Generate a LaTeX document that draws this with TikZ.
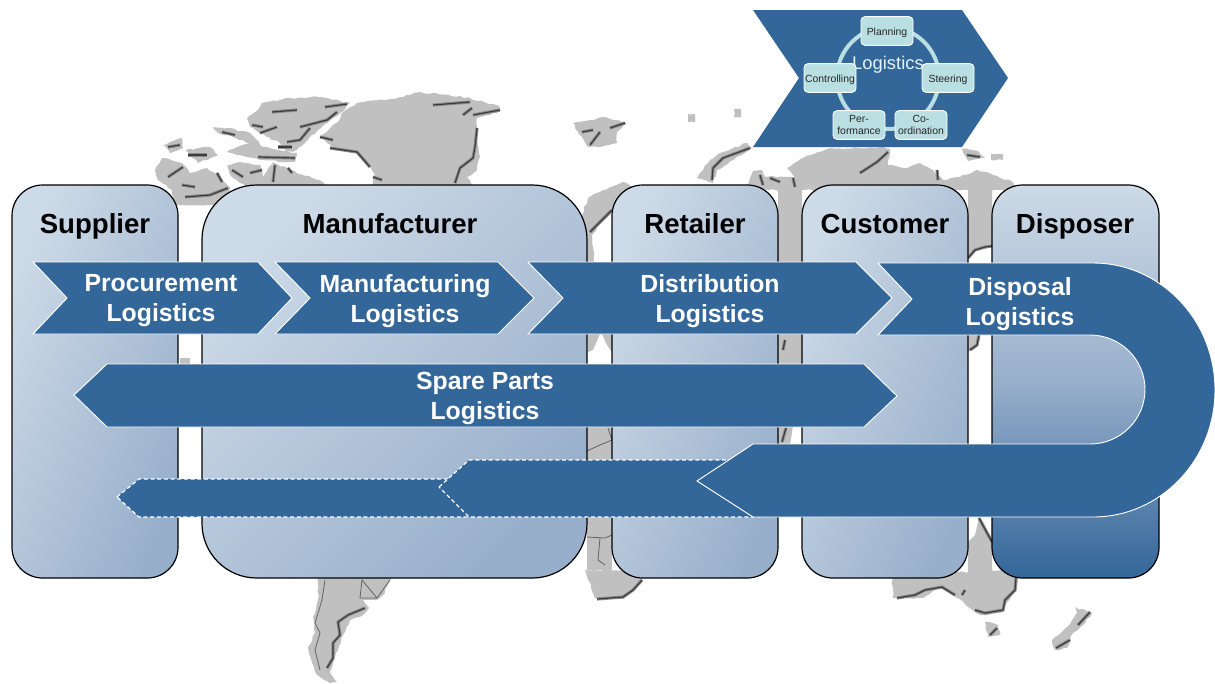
\documentclass[tikz,border=0pt]{standalone}
\usepackage{fontspec}
\setmainfont{Liberation Sans}
\usetikzlibrary{decorations.pathmorphing}

\definecolor{flowblue}{HTML}{336699}
\definecolor{boxlight}{HTML}{CDDAE7}
\definecolor{boxdark}{HTML}{98AFCB}
\definecolor{landgrey}{HTML}{C0C0C0}
\definecolor{coastgrey}{HTML}{3C3C3C}
\definecolor{coastblur}{HTML}{8C8C8C}
\definecolor{cyclepale}{HTML}{B9DFE3}

\tikzset{
    land/.style={fill=landgrey, decorate, decoration={random steps, segment length=3pt, amplitude=0.7pt}},
    coast/.style={draw=coastgrey, line width=0.9pt, line join=round, preaction={draw=coastblur, line width=2.4pt}},
    fineline/.style={draw=coastgrey!80, line width=0.6pt},
    stagebox/.style={draw=black, line width=0.9pt, top color=boxlight, bottom color=boxdark, shading angle=67},
    flowarrow/.style={fill=flowblue, draw=white, line width=0.7pt, line join=miter},
    tailarrow/.style={flowarrow, line width=0.9pt, dash pattern=on 3pt off 2pt},
    stagetitle/.style={font=\fontsize{20.7}{24}\selectfont\bfseries, text=black, inner sep=0pt, text height=14.5pt, text depth=4.2pt},
    flowtext/.style={font=\fontsize{18.6}{22.5}\selectfont\bfseries, text=white, align=center, inner sep=0pt},
    cyclebox/.style={draw=white, line width=0.7pt, fill=cyclepale, rounded corners=3pt, inner sep=0pt,
        minimum width=39pt, minimum height=21.5pt, align=center, font=\fontsize{7.8}{9}\selectfont, text=black!85,
        execute at begin node=\rule{0pt}{8pt}}
}

\begin{document}
\begin{tikzpicture}[x=0.75pt, y=-0.75pt]
    \useasboundingbox (0,0) rectangle (1215,683);
    \pgfmathsetseed{7}

    % map behind everything
    \fill[land] (320,137) -- (338,122) -- (343,112) -- (357,103) -- (383,100) -- (403,97) -- (420,92) -- (470,98) -- (500,107) -- (497,113) -- (477,118) -- (477,137) -- (480,157) -- (477,170) -- (467,177) -- (477,190) -- (370,190) -- (375,175) -- (370,165) -- (357,152) -- (333,148) -- cycle;
    \fill[land] (262,103) -- (290,98) -- (320,97) -- (350,103) -- (340,113) -- (327,123) -- (310,137) -- (297,150) -- (287,152) -- (280,143) -- (267,137) -- (250,127) -- (247,118) -- (258,110) -- cycle;
    \fill[land] (213,127) -- (227,128) -- (250,133) -- (263,147) -- (297,153) -- (295,162) -- (260,160) -- (227,152) -- (237,147) -- (250,143) -- (233,137) -- (218,133) -- cycle;
    \fill[land] (163,145) -- (182,138) -- (183,148) -- (170,153) -- cycle;
    \fill[land] (185,150) -- (210,147) -- (218,155) -- (198,163) -- cycle;
    \fill[land] (155,170) -- (162,158) -- (182,163) -- (190,173) -- (207,168) -- (220,177) -- (230,187) -- (227,205) -- (173,205) -- (172,190) -- (158,180) -- cycle;
    \fill[land] (228,165) -- (240,162) -- (260,165) -- (263,177) -- (273,162) -- (290,170) -- (323,182) -- (327,190) -- (253,190) -- (240,183) -- (230,175) -- cycle;
    \fill[land] (573,123) -- (590,120) -- (603,117) -- (627,123) -- (617,132) -- (617,143) -- (597,147) -- (588,147) -- (578,132) -- cycle;
    \fill[land] (582,215) -- (588,198) -- (603,190) -- (623,182) -- (635,187) -- (625,215) -- (612,212) -- (600,223) -- (592,235) -- (594,262) -- (585,262) -- cycle;
    \fill[land] (697,178) -- (713,183) -- (717,170) -- (752,148) -- (747,143) -- (723,152) -- (710,160) -- (700,173) -- cycle;
    \fill[land] (745,190) -- (753,171) -- (762,170) -- (765,177) -- (787,177) -- (795,177) -- (787,168) -- (803,158) -- (827,149) -- (880,147) -- (890,149) -- (888,165) -- (907,168) -- (920,163) -- (933,170) -- (943,180) -- (960,177) -- (977,170) -- (993,175) -- (1013,182) -- (1017,190) -- cycle;
    \fill[landgrey] (778,185) rectangle (802,364);
    \fill[landgrey] (802,364) -- (790,446) -- (778,446) -- (778,364) -- cycle;
    \fill[landgrey] (968,185) -- (992,185) -- (992,246) -- (985,247) -- (975,250) -- (968,258) -- cycle;
    \fill[landgrey] (968,334) -- (980,334) -- (978,345) -- (968,352) -- cycle;
    \fill[landgrey] (588,334) -- (600,334) -- (593,350) -- (588,352) -- cycle;
    \fill[landgrey] (602,334) -- (612,334) -- (612,352) -- (607,345) -- cycle;
    \fill[landgrey] (587,420) rectangle (612,570);
    \fill[landgrey] (180,358) rectangle (190,366);
    \fill[land] (585,570) -- (595,598) -- (623,599) -- (642,580) -- (633,570) -- cycle;
    \fill[land] (318,575) -- (393,575) -- (383,595) -- (377,600) -- (363,600) -- (369,608) -- (363,615) -- (350,620) -- (343,635) -- (338,650) -- (333,663) -- (330,673) -- (337,682) -- (330,683) -- (317,675) -- (312,663) -- (308,647) -- (315,633) -- (313,617) -- (318,600) -- cycle;
    \fill[land] (892,575) -- (893,598) -- (923,598) -- (942,587) -- (957,598) -- (970,608) -- (980,615) -- (1003,612) -- (1007,602) -- (1017,587) -- (1017,570) -- cycle;
    \fill[landgrey] (968,542) -- (975,535) -- (979,518) -- (992,542) -- (992,585) -- (968,585) -- cycle;
    \fill[land] (985,622) -- (998,625) -- (1000,635) -- (988,637) -- cycle;
    \fill[land] (1075,607) -- (1092,613) -- (1083,625) -- (1073,633) -- (1067,648) -- (1055,650) -- (1052,640) -- (1067,627) -- (1077,613) -- cycle;
    \fill[land] (688,114) rectangle (695,122);
    \fill[land] (734,109) rectangle (741,117);
    \fill[land] (962,149) -- (978,151) -- (985,158) -- (968,161) -- cycle;
    \fill[land] (991,154) rectangle (1003,160);

    % dark coast lines
    \draw[coast] (477,128) -- (475,147) -- (473,158) -- (460,168) -- (455,183);
    \draw[coast] (433,105) -- (470,102);
    \draw[coast] (463,115) -- (472,108);
    \draw[coast] (473,115) -- (500,110);
    \draw[coast] (320,137) -- (333,140);
    \draw[coast] (330,148) -- (357,152) -- (370,167);
    \draw[coast] (373,177) -- (382,180);
    \draw[coast] (325,107) -- (347,104);
    \draw[coast] (300,127) -- (327,120) -- (337,112);
    \draw[coast] (287,142) -- (300,140) -- (310,128);
    \draw[coast] (272,112) -- (297,110);
    \draw[coast] (260,133) -- (277,127);
    \draw[coast] (252,125) -- (263,127);
    \draw[coast] (258,157) -- (295,158);
    \draw[coast] (222,132) -- (235,135);
    \draw[coast] (278,147) -- (292,147);
    \draw[coast] (232,170) -- (243,177);
    \draw[coast] (250,173) -- (262,170);
    \draw[coast] (275,165) -- (273,182);
    \draw[coast] (288,168) -- (292,173);
    \draw[coast] (168,177) -- (183,167);
    \draw[coast] (182,185) -- (195,187);
    \draw[coast] (217,173) -- (222,182);
    \draw[coast] (185,197) -- (210,195) -- (228,188);
    \draw[coast] (168,147) -- (180,145);
    \draw[coast] (188,155) -- (207,155);
    \draw[coast] (582,132) -- (593,130);
    \draw[coast] (590,145) -- (600,132);
    \draw[coast] (610,128) -- (625,123);
    \draw[coast] (590,232) -- (600,222) -- (612,210);
    \draw[coast] (860,173) -- (877,162) -- (888,152);
    \draw[coast] (760,175) -- (763,185);
    \draw[coast] (793,178) -- (795,187);
    \draw[coast] (770,178) -- (780,182);
    \draw[coast] (937,170) -- (938,180);
    \draw[coast] (712,180) -- (713,168) -- (723,158) -- (750,148);
    \draw[coast] (967,155) -- (980,157);
    \draw[coast] (783,350) -- (785,340);
    \draw[coast] (782,442) -- (786,428);
    \draw[coast] (968,258) -- (975,250) -- (985,247) -- (992,246);
    \draw[coast] (970,350) -- (977,345) -- (979,335);
    \draw[coast] (979,518) -- (992,542);
    \draw[coast] (365,608) -- (348,615) -- (338,622) -- (340,635) -- (333,643) -- (333,658) -- (327,668);
    \draw[coast] (642,580) -- (633,590) -- (623,597) -- (597,599);
    \draw[coast] (897,598) -- (915,595) -- (925,590) -- (942,587) -- (955,595);
    \draw[coast] (962,595) -- (965,590);
    \draw[coast] (975,610) -- (985,613) -- (1003,610) -- (1005,600) -- (1015,590) -- (1016,578);
    \draw[coast] (990,635) -- (997,628);
    \draw[coast] (1056,648) -- (1070,640);
    \draw[coast] (1078,625) -- (1090,612);
    \draw[fineline] (390,580) -- (377,598) -- (360,598) -- (362,580) -- (377,598);
    \draw[fineline] (325,580) -- (322,600) -- (315,623) -- (320,633) -- (315,650) -- (320,670);
    \draw[fineline] (587,451) -- (600,445) -- (612,440) -- (608,428);
    \draw[fineline] (587,537) -- (605,538) -- (612,535);
    \draw[fineline] (600,538) -- (598,560) -- (605,565);

    % stages
    \draw[stagebox, rounded corners=23pt] (12,185) rectangle (178,578);
    \draw[stagebox, rounded corners=41pt, shading angle=45] (202,185) rectangle (587,578);
    \draw[stagebox, rounded corners=23pt] (612,185) rectangle (778,578);
    \draw[stagebox, rounded corners=23pt] (802,185) rectangle (968,578);
    \draw[stagebox, rounded corners=23pt, bottom color=flowblue, middle color=boxdark, shading angle=0] (992,185) rectangle (1159,578);

    \node[stagetitle] (supplier) at (95,227) {Supplier};
    \node[stagetitle] (manufacturer) at (390,227) {Manufacturer};
    \node[stagetitle] (retailer) at (695,227) {Retailer};
    \node[stagetitle] (customer) at (885,227) {Customer};
    \node[stagetitle] (disposer) at (1075,227) {Disposer};

    % flows
    \draw[flowarrow] (33,262) -- (258,262) -- (292,298) -- (258,334) -- (33,334) -- (67,298) -- cycle;
    \draw[flowarrow] (275,262) -- (498,262) -- (534,298) -- (498,334) -- (275,334) -- (310,298) -- cycle;
    \draw[flowarrow] (528,262) -- (856,262) -- (892,298) -- (856,334) -- (528,334) -- (563,298) -- cycle;
    \draw[flowarrow] (74,395) -- (107,364) -- (864,364) -- (897,396) -- (864,427) -- (107,427) -- cycle;
    \draw[tailarrow] (117,497) -- (139,479) -- (480,479) -- (480,517) -- (139,517) -- cycle;
    \draw[tailarrow] (439,487) -- (469,460) -- (760,460) -- (760,517) -- (469,517) -- cycle;
    \draw[flowarrow] (878,263) -- (1093,263) arc[start angle=-90, end angle=90, x radius=122, y radius=127]
        -- (753,517) -- (697,481) -- (753,444) -- (1090,444)
        arc[start angle=90, end angle=-90, x radius=55, y radius=54.5] -- (878,335) -- (912,299) -- cycle;

    \node[flowtext] (procurement) at (161,301) {Procurement\\Logistics};
    \node[flowtext] (manufacturing) at (405,301) {Manufacturing\\Logistics};
    \node[flowtext] (distribution) at (710,301) {Distribution\\Logistics};
    \node[flowtext] (disposal) at (1020,304) {Disposal\\Logistics};
    \node[flowtext] (spareparts) at (485,398) {Spare Parts\\Logistics};

    % logistics cycle
    \draw[flowarrow, draw=none] (753,10) -- (962,10) -- (1008,78) -- (962,147) -- (753,147) -- (799,78) -- cycle;
    \draw[cyclepale, line width=3pt] (888,78) circle [radius=51];
    \node[font=\fontsize{13.8}{16}\selectfont, text=cyclepale!40!white, inner sep=0pt] (logistics) at (888,65) {Logistics};
    \foreach \name/\xx/\yy/\label in {planning/887/31/Planning, steering/948/78/Steering, coordination/921/125/{Co-\\ordination}, performance/859/125/{Per-\\formance}, controlling/830/78/Controlling}{
        \node[cyclebox] (\name) at (\xx,\yy) {\label};
    }
\end{tikzpicture}
\end{document}
